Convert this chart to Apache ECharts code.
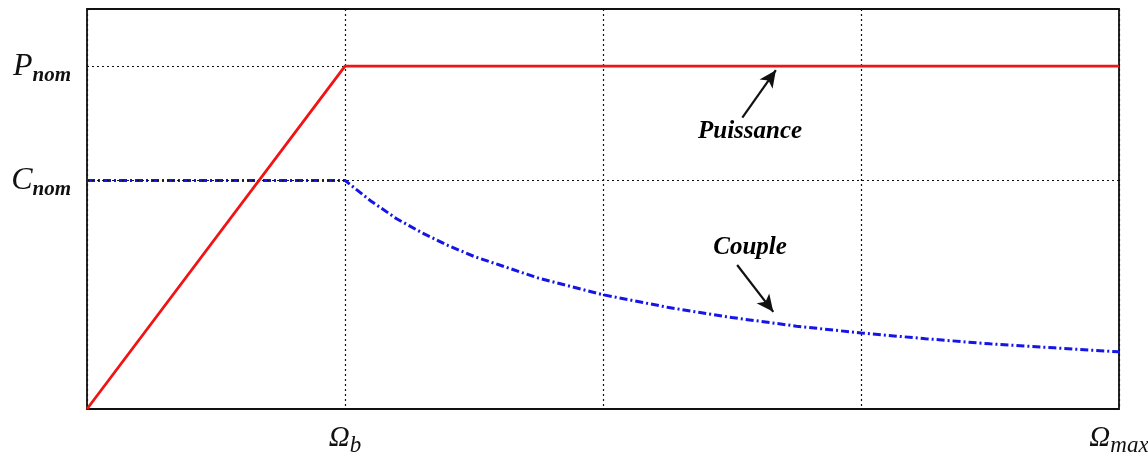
<!DOCTYPE html>
<html>
<head>
<meta charset="utf-8">
<script src="https://cdn.jsdelivr.net/npm/echarts@6/dist/echarts.min.js"></script>
<style>
  html, body { margin: 0; padding: 0; background: #fff; }
  #chart { width: 1148px; height: 454px; }
</style>
</head>
<body>
<div id="chart"></div>
<script>
// Speed axis: 0 .. Ωmax, with Ωb at 1
const speed = [0, 1, 1.1, 1.2, 1.3, 1.4, 1.5, 1.75, 2, 2.25, 2.5, 2.75, 3, 3.25, 3.5, 3.75, 4];
// Power: linear rise up to Ωb, then constant at Pnom
const powerPoints = [[0, 0], [1, 6], [4, 6]];
// Torque: constant Cnom up to Ωb, then decreasing
const torque = [4, 4, 3.64, 3.33, 3.08, 2.86, 2.67, 2.29, 2, 1.78, 1.6, 1.45, 1.33, 1.23, 1.14, 1.07, 1];
// Reference levels on the vertical axis
const P_NOM = 6;
const C_NOM = 4;
const xTickLabels = { 1: '{o|Ω}{s|b}', 4: '{o|Ω}{s|max}' };
const yTickLabels = { 6: '{m|P}{s|nom}', 4: '{m|C}{s|nom}' };
// Callouts (text anchor, arrow start, arrow tip) in data units
const callouts = [
  { text: 'Puissance', at: [2.57, 4.86], from: [2.54, 5.1], to: [2.67, 5.93] },
  { text: 'Couple', at: [2.57, 2.82], from: [2.52, 2.52], to: [2.66, 1.70] }
];

const serif = '"Liberation Serif", "DejaVu Serif", serif';
const chart = echarts.init(document.getElementById('chart'));

const torqueData = speed.map((x, i) => [x, torque[i]]);

chart.setOption({
  animation: false,
  backgroundColor: '#fff',
  grid: {
    left: 87, right: 29, top: 9, bottom: 45,
    outerBoundsMode: 'none', containLabel: false,
    show: true, borderColor: '#111', borderWidth: 1.8, backgroundColor: 'transparent'
  },
  xAxis: {
    type: 'value', min: 0, max: 4, interval: 1,
    axisLine: { show: false }, axisTick: { show: false },
    splitLine: { show: true, lineStyle: { color: '#111', type: [2, 3], width: 1.2 } },
    axisLabel: {
      margin: 15, showMaxLabel: true, showMinLabel: true,
      formatter: v => xTickLabels[v] || '',
      rich: {
        o: { fontFamily: serif, fontStyle: 'italic', fontSize: 29, color: '#111', verticalAlign: 'bottom' },
        s: { fontFamily: serif, fontStyle: 'italic', fontSize: 23, color: '#111', verticalAlign: 'bottom', padding: [0, 0, -4, 0] }
      }
    }
  },
  yAxis: {
    type: 'value', min: 0, max: 7, interval: 1,
    axisLine: { show: false }, axisTick: { show: false },
    splitLine: { show: false },
    axisLabel: {
      margin: 16,
      formatter: v => yTickLabels[v] || '',
      rich: {
        m: { fontFamily: serif, fontStyle: 'italic', fontSize: 32, color: '#111', verticalAlign: 'bottom' },
        s: { fontFamily: serif, fontStyle: 'italic', fontWeight: 'bold', fontSize: 21, color: '#111', verticalAlign: 'bottom', padding: [0, 0, -4, 0] }
      }
    }
  },
  series: [
    {
      // dotted reference levels Pnom and Cnom
      type: 'line', data: [], z: 1, silent: true,
      markLine: {
        silent: true, symbol: ['none', 'none'], label: { show: false },
        lineStyle: { color: '#111', type: [2, 3], width: 1.2 },
        data: [{ yAxis: P_NOM }, { yAxis: C_NOM }]
      }
    },
    {
      name: 'Puissance', type: 'line', data: powerPoints, z: 5,
      symbol: 'none', lineStyle: { color: '#f01414', width: 2.8 }
    },
    {
      name: 'Couple', type: 'line', data: torqueData, z: 4, smooth: false,
      symbol: 'none', lineStyle: { color: '#1515e8', width: 3, type: [8, 3, 2, 3] }
    },
    {
      // callout arrows
      type: 'line', data: [], z: 6, silent: true,
      markLine: {
        silent: true, symbol: ['none', 'arrow'], symbolSize: [12, 17],
        label: { show: false },
        lineStyle: { color: '#111', type: 'solid', width: 2.2 },
        data: callouts.map(c => [{ coord: c.from }, { coord: c.to }])
      }
    },
    {
      // callout texts
      type: 'scatter', z: 7, silent: true, symbolSize: 0,
      itemStyle: { opacity: 1 },
      data: callouts.map(c => ({ value: c.at, name: c.text })),
      label: {
        show: true, position: 'inside', formatter: p => p.name, opacity: 1,
        fontFamily: serif, fontStyle: 'italic', fontWeight: 'bold', fontSize: 25, color: '#000'
      }
    }
  ]
});
</script>
</body>
</html>
